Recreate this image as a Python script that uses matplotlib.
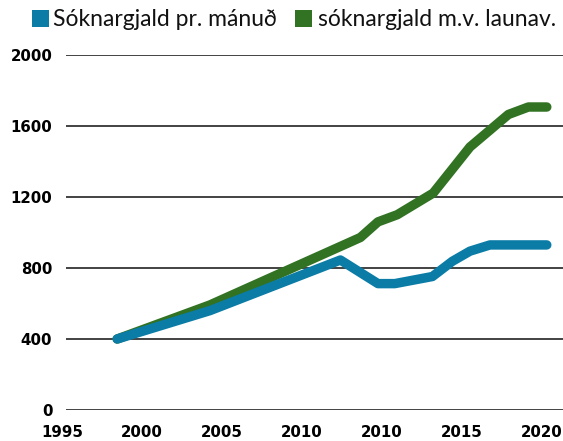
import matplotlib
matplotlib.use("Agg")
import matplotlib.pyplot as plt
from matplotlib.patches import Rectangle

# ---- data (x in tick-slot units: 0 = first label, 6 = last label) ----
tick_labels = ["1995", "2000", "2005", "2010", "2010", "2015", "2020"]
y_ticks = [0, 400, 800, 1200, 1600, 2000]

series1_name = "Sóknargjald pr. mánuð"
series1_x = [0.69, 1.85, 3.48, 3.95, 4.16, 4.63, 4.88, 5.10, 5.35, 6.06]
series1_y = [400, 560, 845, 712, 712, 752, 838, 895, 930, 930]

series2_name = "sóknargjald m.v. launav."
series2_x = [0.69, 1.85, 3.73, 3.95, 4.19, 4.64, 5.10, 5.58, 5.83, 6.06]
series2_y = [400, 592, 972, 1060, 1100, 1222, 1482, 1665, 1707, 1707]

BLUE = "#0a7ca6"
GREEN = "#317223"

W, H = 563, 441
fig = plt.figure(figsize=(W / 100, H / 100), dpi=100)
ax = fig.add_axes([62 / W, 31 / H, (W - 62) / W, 355 / H])
ax.set_xlim(0, 6.2625)
ax.set_ylim(0, 2000)

for v in y_ticks:
    ax.hlines(v, 0.05, 6.2625, color="#222222", lw=1.2, zorder=1)

ax.plot(series2_x, series2_y, color=GREEN, lw=6.8, solid_capstyle="round",
        solid_joinstyle="round", zorder=2, clip_on=False)
ax.plot(series1_x, series1_y, color=BLUE, lw=6.8, solid_capstyle="round",
        solid_joinstyle="round", zorder=3, clip_on=False)

for s in ax.spines.values():
    s.set_visible(False)
ax.set_yticks(y_ticks)
ax.set_yticklabels([str(v) for v in y_ticks])
ax.set_xticks(range(len(tick_labels)))
ax.set_xticklabels(tick_labels)
ax.tick_params(axis="y", length=0, pad=7)
ax.tick_params(axis="x", length=0, pad=10.5)
for lab in ax.get_xticklabels() + ax.get_yticklabels():
    lab.set_fontfamily("DejaVu Sans")
    lab.set_fontweight("bold")
    lab.set_fontsize(10.8)
    lab.set_color("black")

# ---- legend (manual) ----
def px(x, y):
    return x / W, (H - y) / H

for (x0, col, name, tx) in [(32, BLUE, series1_name, 53), (295, GREEN, series2_name, 318)]:
    fx, fy = px(x0, 27)
    fig.patches.append(Rectangle((fx, fy), 17 / W, 17 / H, transform=fig.transFigure,
                                 facecolor=col, edgecolor="none"))
    tfx, tfy = px(tx, 26)
    fig.text(tfx, tfy, name, fontsize=16.5, family="Lato", va="baseline", ha="left",
             color="#111111")

fig.savefig("out.png", dpi=100)
